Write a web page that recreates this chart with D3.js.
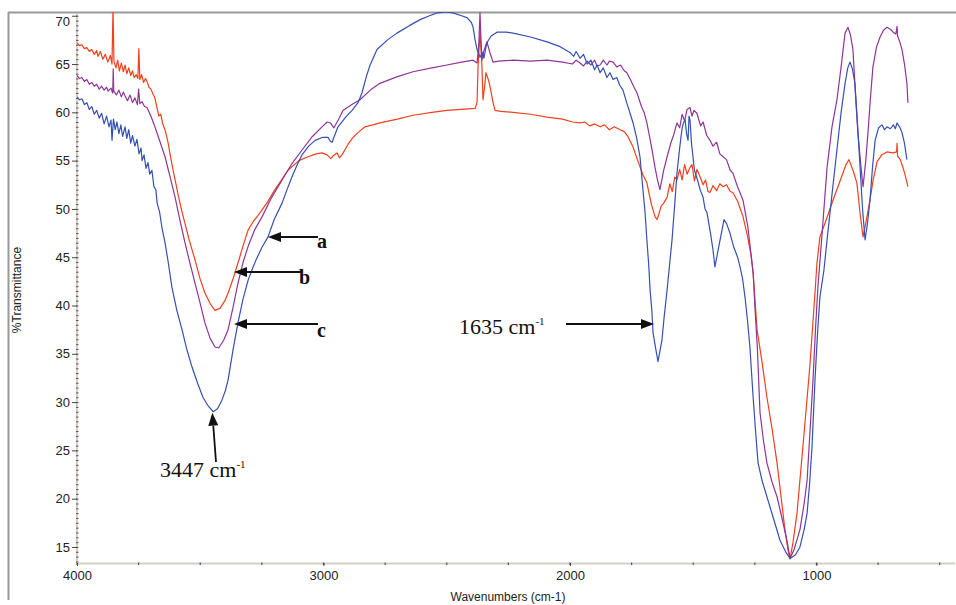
<!DOCTYPE html>
<html><head><meta charset="utf-8">
<script src="https://cdn.jsdelivr.net/npm/d3@7"></script>
<style>body{margin:0;background:#fff}svg{display:block}</style>
</head><body><svg id="c" width="956" height="605"></svg>
<script>
// [wavenumber (cm-1), %Transmittance]
const seriesRed = [[4000,67.2],[3990,66.9],[3980,67.0],[3970,66.6],[3960,66.7],[3950,66.3],[3940,66.5],[3930,66.0],[3920,66.4],[3915,65.8],[3905,66.3],[3895,65.5],[3885,66.0],[3875,65.2],[3865,65.9],[3858,65.0],[3854,70.6],[3850,65.3],[3842,64.6],[3835,65.4],[3828,64.3],[3820,65.1],[3812,64.2],[3805,64.9],[3798,64.0],[3790,64.6],[3782,63.8],[3775,64.3],[3768,63.6],[3760,63.9],[3753,63.5],[3749,66.6],[3745,63.4],[3738,63.9],[3730,63.1],[3722,63.5],[3716,63.2],[3708,62.6],[3700,62.4],[3692,61.9],[3684,61.5],[3676,60.5],[3668,59.6],[3660,59.8],[3652,58.8],[3643,58.2],[3630,56.8],[3620,55.3],[3610,54.0],[3602,53.0],[3590,51.5],[3575,49.8],[3562,48.5],[3545,46.8],[3521,44.7],[3500,42.7],[3481,41.3],[3460,40.2],[3440,39.5],[3420,39.7],[3400,40.5],[3387,41.3],[3365,42.9],[3347,44.4],[3326,46.2],[3306,47.8],[3285,48.7],[3266,49.3],[3230,50.6],[3197,52.0],[3170,53.0],[3144,54.0],[3100,55.0],[3063,55.4],[3030,55.7],[3006,55.8],[2985,55.6],[2970,55.2],[2961,55.5],[2945,55.8],[2935,55.3],[2925,55.6],[2900,56.7],[2880,57.4],[2860,57.9],[2832,58.5],[2800,58.7],[2771,58.9],[2700,59.3],[2637,59.7],[2560,60.0],[2499,60.2],[2440,60.3],[2385,60.4],[2377,61.0],[2373,64.7],[2365,68.3],[2360,66.0],[2357,64.7],[2353,61.3],[2347,62.5],[2341,64.1],[2330,63.3],[2324,62.6],[2312,61.0],[2304,60.2],[2280,60.1],[2231,60.0],[2160,59.8],[2093,59.5],[2030,59.3],[1990,59.0],[1959,58.9],[1940,59.0],[1920,58.6],[1900,58.8],[1878,58.5],[1860,58.7],[1840,58.2],[1820,58.5],[1797,58.2],[1780,58.0],[1765,57.5],[1744,56.4],[1725,55.0],[1705,53.6],[1688,52.7],[1670,50.5],[1655,49.2],[1647,48.9],[1640,49.4],[1630,50.3],[1620,50.6],[1606,51.2],[1595,52.6],[1585,51.8],[1575,53.3],[1566,53.0],[1555,54.1],[1545,53.0],[1535,54.6],[1525,53.6],[1513,54.3],[1505,54.6],[1495,52.9],[1485,54.1],[1472,53.3],[1460,52.5],[1450,53.0],[1440,51.8],[1432,51.7],[1420,52.4],[1405,51.9],[1392,52.6],[1379,52.3],[1365,52.5],[1350,51.8],[1339,51.7],[1320,50.8],[1298,49.2],[1280,47.2],[1266,45.3],[1257,43.4],[1241,37.5],[1220,34.0],[1201,30.5],[1180,27.2],[1160,23.7],[1145,20.5],[1128,16.8],[1115,14.6],[1107,13.8],[1095,15.5],[1079,18.5],[1055,25.4],[1040,29.8],[1026,34.0],[1015,38.0],[1006,41.3],[998,44.4],[986,47.1],[960,48.9],[933,50.9],[900,53.2],[880,54.6],[868,55.1],[852,54.0],[836,52.7],[823,49.5],[811,47.1],[800,48.5],[783,50.9],[770,53.0],[754,54.9],[735,55.6],[714,55.9],[690,55.8],[675,55.9],[673,56.8],[671,55.5],[660,55.1],[653,54.6],[640,53.5],[629,52.3]];

const seriesPurple = [[4000,63.8],[3990,63.5],[3980,63.6],[3970,63.2],[3960,63.4],[3950,62.9],[3940,63.1],[3930,62.7],[3920,62.9],[3910,62.4],[3900,62.7],[3890,62.3],[3880,62.6],[3874,62.2],[3862,62.5],[3855,62.0],[3853,64.5],[3851,62.2],[3840,61.8],[3830,62.3],[3820,61.6],[3812,62.1],[3805,61.7],[3795,61.2],[3785,61.8],[3775,61.0],[3765,61.5],[3755,60.8],[3750,62.4],[3745,60.9],[3736,61.1],[3726,60.6],[3716,60.5],[3700,59.6],[3684,58.5],[3664,57.0],[3643,55.4],[3622,53.3],[3602,51.2],[3582,48.8],[3562,46.5],[3541,44.3],[3521,42.3],[3500,40.2],[3481,38.2],[3460,36.6],[3440,35.7],[3425,35.6],[3405,36.4],[3387,37.5],[3367,39.8],[3347,42.3],[3326,44.5],[3306,46.1],[3280,47.8],[3249,49.2],[3210,51.2],[3168,53.0],[3128,54.7],[3087,56.1],[3045,57.5],[3006,58.5],[2985,59.0],[2972,58.9],[2958,58.4],[2940,59.2],[2921,60.2],[2885,60.8],[2852,61.3],[2810,62.3],[2771,63.0],[2700,63.7],[2637,64.2],[2560,64.6],[2499,64.9],[2440,65.2],[2393,65.4],[2377,65.1],[2370,67.0],[2365,70.3],[2361,67.5],[2357,65.4],[2350,66.3],[2337,67.3],[2325,66.2],[2312,65.2],[2290,65.3],[2231,65.4],[2160,65.3],[2093,65.4],[2030,65.2],[1990,65.0],[1975,65.4],[1959,65.1],[1945,64.8],[1930,65.3],[1915,64.9],[1900,65.4],[1890,64.8],[1878,64.9],[1865,65.4],[1850,64.9],[1840,65.3],[1825,65.2],[1810,64.7],[1795,64.9],[1780,64.3],[1769,64.1],[1755,63.4],[1740,62.6],[1728,62.0],[1710,60.6],[1698,59.9],[1688,58.9],[1675,57.2],[1665,55.8],[1655,54.3],[1645,53.0],[1635,52.0],[1628,52.9],[1620,54.0],[1606,55.4],[1590,56.9],[1580,57.6],[1566,58.9],[1555,58.4],[1545,59.8],[1535,59.1],[1525,60.3],[1513,60.5],[1505,59.6],[1497,60.2],[1485,59.9],[1470,58.6],[1460,59.0],[1445,57.6],[1432,57.1],[1420,56.5],[1405,56.9],[1392,55.7],[1379,55.4],[1365,55.1],[1350,54.0],[1339,53.7],[1320,52.3],[1298,50.9],[1278,48.1],[1257,43.4],[1249,39.5],[1240,35.7],[1229,28.9],[1215,26.0],[1201,23.7],[1180,21.7],[1160,20.2],[1140,18.0],[1120,15.7],[1107,13.8],[1090,14.8],[1067,16.8],[1050,19.5],[1038,21.9],[1025,27.5],[1014,32.3],[1003,38.0],[994,42.0],[980,46.5],[957,54.3],[937,58.5],[917,61.3],[900,64.7],[884,68.2],[872,68.8],[862,68.0],[852,66.5],[842,62.0],[832,57.9],[820,54.5],[811,52.3],[800,55.0],[791,57.9],[781,61.5],[771,64.7],[756,66.8],[742,67.8],[728,68.5],[714,68.8],[700,68.6],[689,68.3],[678,68.1],[673,68.9],[671,67.9],[662,67.3],[653,66.5],[643,65.0],[633,63.0],[629,61.0]];

const seriesBlue = [[4000,61.6],[3990,61.3],[3980,61.4],[3970,60.8],[3960,61.0],[3950,60.3],[3940,60.6],[3930,59.8],[3920,60.2],[3910,59.4],[3900,59.9],[3890,58.8],[3880,59.6],[3870,58.5],[3862,59.2],[3858,57.1],[3852,59.3],[3845,58.2],[3838,59.0],[3830,57.8],[3822,58.7],[3815,57.5],[3805,58.5],[3798,57.3],[3790,58.2],[3782,56.8],[3775,57.6],[3765,56.5],[3757,57.2],[3748,55.7],[3740,56.3],[3736,55.0],[3728,55.6],[3720,54.2],[3712,54.8],[3705,53.6],[3696,54.0],[3688,52.3],[3680,52.0],[3675,50.6],[3665,49.7],[3655,48.0],[3643,46.5],[3630,44.5],[3615,41.9],[3595,39.5],[3574,37.5],[3555,35.5],[3533,33.6],[3510,31.9],[3489,30.5],[3468,29.6],[3447,29.0],[3430,29.3],[3412,30.2],[3398,31.2],[3387,32.3],[3367,35.4],[3347,38.2],[3327,40.6],[3306,42.6],[3290,43.7],[3274,44.7],[3250,46.0],[3225,47.1],[3200,48.9],[3168,50.6],[3148,52.0],[3128,53.3],[3108,54.5],[3087,55.6],[3060,56.5],[3034,57.1],[3005,57.4],[2982,57.4],[2972,57.0],[2965,56.9],[2955,57.6],[2941,58.5],[2910,59.5],[2884,60.2],[2860,61.0],[2844,62.0],[2825,63.8],[2811,64.9],[2795,65.8],[2783,66.5],[2740,67.5],[2702,68.2],[2650,69.0],[2608,69.6],[2570,70.0],[2539,70.3],[2500,70.4],[2475,70.3],[2440,70.0],[2418,69.8],[2400,69.3],[2393,68.8],[2385,67.5],[2377,66.5],[2365,65.7],[2355,66.2],[2349,65.6],[2343,66.5],[2337,67.2],[2320,67.9],[2296,68.3],[2260,68.3],[2231,68.2],[2160,67.8],[2093,67.3],[2040,66.8],[2000,66.2],[1985,65.8],[1975,66.3],[1959,65.6],[1945,66.0],[1930,65.0],[1915,65.4],[1900,64.4],[1890,64.9],[1878,64.1],[1865,64.6],[1850,63.6],[1838,64.1],[1825,63.4],[1810,63.6],[1798,62.8],[1785,62.3],[1770,61.0],[1755,59.8],[1744,58.9],[1730,57.4],[1716,55.4],[1704,52.0],[1695,49.5],[1688,46.8],[1680,44.0],[1675,41.6],[1668,39.5],[1663,37.2],[1652,35.5],[1643,34.2],[1635,35.3],[1627,36.4],[1618,38.8],[1606,41.6],[1596,44.2],[1586,46.8],[1575,50.5],[1566,53.7],[1555,56.3],[1546,58.2],[1540,58.9],[1533,59.2],[1527,57.8],[1521,57.1],[1517,59.6],[1513,59.2],[1507,56.8],[1501,55.4],[1495,54.0],[1485,53.2],[1472,52.0],[1460,51.2],[1452,50.0],[1444,49.6],[1430,47.5],[1420,45.8],[1412,44.0],[1400,45.6],[1391,46.8],[1375,48.9],[1365,48.5],[1351,47.5],[1335,46.0],[1320,45.0],[1310,44.0],[1300,42.8],[1290,40.9],[1280,38.5],[1270,35.7],[1257,30.5],[1247,27.0],[1237,23.7],[1220,21.8],[1201,20.2],[1175,18.0],[1148,15.7],[1125,14.5],[1107,13.8],[1085,14.2],[1067,15.0],[1050,16.8],[1038,18.5],[1028,21.5],[1018,25.4],[1006,32.3],[996,37.0],[986,40.9],[970,43.6],[957,46.8],[937,51.5],[917,56.1],[900,60.0],[884,63.0],[873,64.6],[864,65.2],[854,64.5],[844,63.0],[833,58.6],[823,54.3],[813,50.0],[803,46.8],[793,48.5],[783,50.9],[772,54.5],[762,57.1],[748,58.4],[734,58.7],[724,58.2],[714,58.5],[700,58.3],[688,58.7],[680,58.3],[673,58.9],[663,58.5],[653,57.9],[643,56.8],[633,55.1]];

const seriesColors = ["#f0401c", "#8e3596", "#3550b5"];
const xTicks = [4000, 3000, 2000, 1000];
const yTicks = [15, 20, 25, 30, 35, 40, 45, 50, 55, 60, 65, 70];
const xLabel = "Wavenumbers (cm-1)";
const yLabel = "%Transmittance";

const svg = d3.select("#c");
const x = d3.scaleLinear().domain([4000, 440]).range([77, 954.5]);
const y = d3.scaleLinear().domain([13.34, 70.18]).range([563, 14]);
const axisCol = "#d6cfc6";

// outer frame
svg.append("line").attr("x1", 8).attr("x2", 956).attr("y1", 12.5).attr("y2", 12.5).attr("stroke", "#9a9a9a").attr("stroke-width", 2);
svg.append("line").attr("x1", 8.5).attr("x2", 8.5).attr("y1", 12).attr("y2", 600).attr("stroke", "#9a9a9a").attr("stroke-width", 2);

// y axis
svg.append("line").attr("x1", 77).attr("x2", 77).attr("y1", y.range()[1]).attr("y2", 563).attr("stroke", axisCol).attr("stroke-width", 2.2);
const yMinor = d3.range(13.5, 70.2, 0.5);
svg.append("g").selectAll("line").data(yMinor).join("line")
  .attr("x1", 76).attr("x2", 78.5).attr("y1", d => y(d) + 0.5).attr("y2", d => y(d) + 0.5)
  .attr("stroke", "#555").attr("stroke-width", 1);
const yAxis = d3.axisLeft(y).tickValues(yTicks).tickSize(5).tickPadding(2).tickFormat(d3.format("d"));
const gy = svg.append("g").attr("transform", "translate(77,0)").call(yAxis);
gy.select(".domain").remove();
gy.selectAll(".tick line").attr("stroke", "#444");
gy.selectAll(".tick text").attr("font-family", "Liberation Sans, Arial, sans-serif").attr("font-size", 13).attr("fill", "#222")
  .attr("dy", d => d === 70 ? "0.75em" : "0.32em");

// x axis
svg.append("line").attr("x1", 77).attr("x2", 955).attr("y1", 563.5).attr("y2", 563.5).attr("stroke", axisCol).attr("stroke-width", 2.2);
const xMinor = d3.range(4000, 440, -250);
svg.append("g").selectAll("line").data(xMinor).join("line")
  .attr("x1", d => x(d)).attr("x2", d => x(d)).attr("y1", 562.5).attr("y2", 565)
  .attr("stroke", "#555").attr("stroke-width", 1.2);
const xAxis = d3.axisBottom(x).tickValues(xTicks).tickSize(3).tickPadding(5).tickFormat(d3.format("d"));
const gx = svg.append("g").attr("transform", "translate(0,563)").call(xAxis);
gx.select(".domain").remove();
gx.selectAll(".tick line").attr("stroke", "#444");
gx.selectAll(".tick text").attr("font-family", "Liberation Sans, Arial, sans-serif").attr("font-size", 13).attr("fill", "#222");

// axis titles
svg.append("text").attr("x", 508).attr("y", 601).attr("text-anchor", "middle")
  .attr("font-family", "Liberation Sans, Arial, sans-serif").attr("font-size", 12).attr("fill", "#222").text(xLabel);
svg.append("text").attr("transform", "translate(21,290) rotate(-90)").attr("text-anchor", "middle")
  .attr("font-family", "Liberation Sans, Arial, sans-serif").attr("font-size", 12).attr("fill", "#222").text(yLabel);

// clip
svg.append("defs").append("clipPath").attr("id", "plot").append("rect")
  .attr("x", 77).attr("y", 12).attr("width", 879).attr("height", 552);

const line = d3.line().x(d => x(d[0])).y(d => y(d[1]));
const gl = svg.append("g").attr("clip-path", "url(#plot)");
[seriesRed, seriesPurple, seriesBlue].forEach((s, i) => {
  gl.append("path").datum(s).attr("d", line).attr("fill", "none")
    .attr("stroke", seriesColors[i]).attr("stroke-width", 1.2).attr("stroke-linejoin", "round");
});

// annotations
function arrow(x1, y1, x2, y2) {
  const ang = Math.atan2(y2 - y1, x2 - x1), L = 13, Wd = 5;
  const bx = x2 - L * Math.cos(ang), by = y2 - L * Math.sin(ang);
  svg.append("line").attr("x1", x1).attr("y1", y1).attr("x2", bx).attr("y2", by)
    .attr("stroke", "#111").attr("stroke-width", 1.8);
  const px = -Math.sin(ang) * Wd, py = Math.cos(ang) * Wd;
  svg.append("path").attr("d", `M${x2},${y2}L${bx + px},${by + py}L${bx - px},${by - py}Z`).attr("fill", "#111");
}
const serif = "Liberation Serif, Times New Roman, serif";
arrow(318, 237, 268, 237);
arrow(302, 272, 234, 272);
arrow(318, 324, 234, 324);
[["a", 317, 248], ["b", 299, 284], ["c", 317, 337]].forEach(([t, tx, ty]) => {
  svg.append("text").attr("x", tx).attr("y", ty).attr("font-family", serif).attr("font-weight", "bold")
    .attr("font-size", 20).attr("fill", "#111").text(t);
});
arrow(216, 462, x(3447) - 1, y(29.0) + 1);
arrow(566, 324, 654, 324);
function label(tx, ty, num) {
  const t = svg.append("text").attr("x", tx).attr("y", ty).attr("font-family", serif).attr("font-size", 22).attr("fill", "#111");
  t.append("tspan").text(num + " cm");
  t.append("tspan").attr("font-size", 11).attr("dy", -9).text("-1");
}
label(160, 477, "3447");
label(459, 334, "1635");
</script></body></html>
